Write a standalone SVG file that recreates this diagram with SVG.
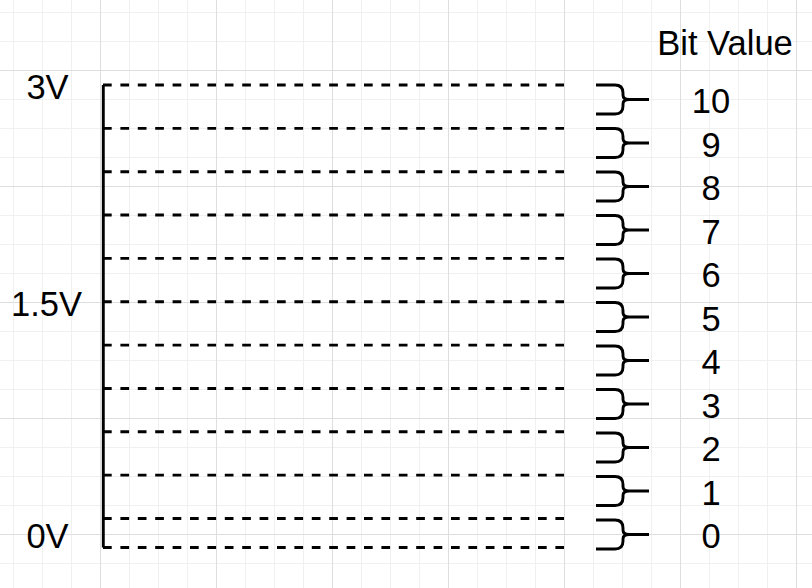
<svg xmlns="http://www.w3.org/2000/svg" xmlns:xlink="http://www.w3.org/1999/xlink" width="812" height="588" viewBox="0 0 812 588">
  <style>
    .lbl { font-family: "Liberation Sans", Arial, Helvetica, sans-serif; font-size: 34.5px; fill: #000; text-anchor: middle; }
    .axis { stroke: #000; stroke-width: 2.9; fill: none; }
    .dash { stroke: #000; stroke-width: 2.9; fill: none; stroke-dasharray: 8.7 8.7; }
    .brace { stroke: #000; stroke-width: 2.9; fill: none; stroke-linejoin: round; }
  </style>
  <defs>
    <pattern id="minor" x="13" y="12" width="29" height="29" patternUnits="userSpaceOnUse">
      <path d="M0.5 0 V29 M0 0.5 H29" stroke="#f0f0f0" stroke-width="1" fill="none"/>
    </pattern>
    <pattern id="major" x="100" y="70" width="116" height="116" patternUnits="userSpaceOnUse">
      <path d="M0.5 0 V116 M0 0.5 H116" stroke="#dedede" stroke-width="1" fill="none"/>
    </pattern>
    <path id="br" class="brace" d="M596,0 H615 Q623,0 623,8 V10 Q623,14.5 629,14.5 H649 M629,14.5 Q623,14.5 623,19 V21 Q623,29 615,29 H596"/>
  </defs>
  <rect width="812" height="588" fill="#ffffff"/>
  <rect width="812" height="588" fill="url(#minor)"/>
  <rect width="812" height="588" fill="url(#major)"/>

  <g id="connectors">
    <line class="axis" x1="103.3" y1="85" x2="103.3" y2="547.5"/>
    <line class="dash" x1="103" y1="85" x2="564" y2="85"/>
    <line class="dash" x1="103" y1="128.35" x2="564" y2="128.35"/>
    <line class="dash" x1="103" y1="171.7" x2="564" y2="171.7"/>
    <line class="dash" x1="103" y1="215.05" x2="564" y2="215.05"/>
    <line class="dash" x1="103" y1="258.4" x2="564" y2="258.4"/>
    <line class="dash" x1="103" y1="301.75" x2="564" y2="301.75"/>
    <line class="dash" x1="103" y1="345.1" x2="564" y2="345.1"/>
    <line class="dash" x1="103" y1="388.45" x2="564" y2="388.45"/>
    <line class="dash" x1="103" y1="431.8" x2="564" y2="431.8"/>
    <line class="dash" x1="103" y1="475.15" x2="564" y2="475.15"/>
    <line class="dash" x1="103" y1="518.5" x2="564" y2="518.5"/>
    <line class="dash" x1="103" y1="547.5" x2="564" y2="547.5"/>
  </g>

  <g id="label-3v"><text class="lbl" x="47.5" y="99">3V</text></g>
  <g id="label-1-5v"><text class="lbl" x="46.5" y="315.5">1.5V</text></g>
  <g id="label-0v"><text class="lbl" x="47.5" y="548">0V</text></g>
  <g id="label-bit-value"><text class="lbl" x="725" y="55">Bit Value</text></g>

  <g id="bit-10"><use xlink:href="#br" transform="translate(0,85)"/><text class="lbl" x="711" y="113">10</text></g>
  <g id="bit-9"><use xlink:href="#br" transform="translate(0,128.5)"/><text class="lbl" x="711" y="156.5">9</text></g>
  <g id="bit-8"><use xlink:href="#br" transform="translate(0,172)"/><text class="lbl" x="711" y="200">8</text></g>
  <g id="bit-7"><use xlink:href="#br" transform="translate(0,215.5)"/><text class="lbl" x="711" y="243.5">7</text></g>
  <g id="bit-6"><use xlink:href="#br" transform="translate(0,259)"/><text class="lbl" x="711" y="287">6</text></g>
  <g id="bit-5"><use xlink:href="#br" transform="translate(0,302.5)"/><text class="lbl" x="711" y="330.5">5</text></g>
  <g id="bit-4"><use xlink:href="#br" transform="translate(0,346)"/><text class="lbl" x="711" y="374">4</text></g>
  <g id="bit-3"><use xlink:href="#br" transform="translate(0,389.5)"/><text class="lbl" x="711" y="417.5">3</text></g>
  <g id="bit-2"><use xlink:href="#br" transform="translate(0,433)"/><text class="lbl" x="711" y="461">2</text></g>
  <g id="bit-1"><use xlink:href="#br" transform="translate(0,476.5)"/><text class="lbl" x="711" y="504.5">1</text></g>
  <g id="bit-0"><use xlink:href="#br" transform="translate(0,520)"/><text class="lbl" x="711" y="548">0</text></g>
</svg>
